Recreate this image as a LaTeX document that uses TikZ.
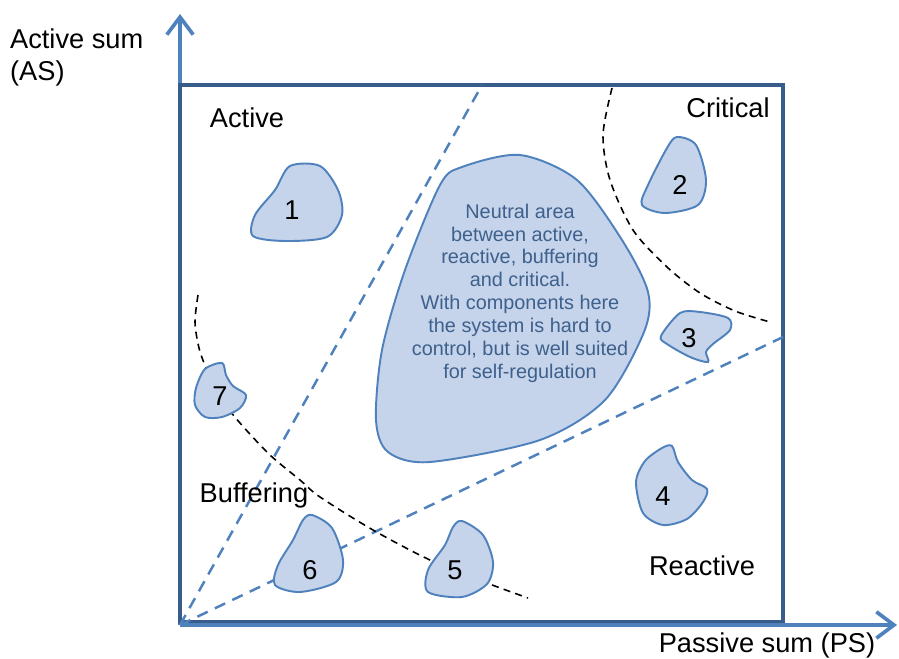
\documentclass[tikz,border=0pt]{standalone}
\usepackage{fontspec}
\setmainfont{Liberation Sans}
\usepackage{xcolor}
\usetikzlibrary{arrows.meta}
\definecolor{framecol}{RGB}{56,93,138}
\definecolor{axiscol}{RGB}{79,129,189}
\definecolor{blobfill}{RGB}{197,212,234}
\definecolor{neutraltext}{RGB}{62,96,140}

\begin{document}
\begin{tikzpicture}[x=0.02cm, y=-0.02cm,
  lbl/.style={font=\fontsize{15.5}{18.2}\selectfont, inner sep=1pt},
  num/.style={font=\fontsize{15.5}{18.2}\selectfont, inner sep=1pt},
  axis/.style={draw=axiscol, line width=2.1pt, -{Straight Barb[length=10pt, width=15pt, line width=2.1pt]}},
  frame/.style={draw=framecol, line width=2.4pt},
  border/.style={draw=axiscol, line width=1.4pt, dash pattern=on 6.5pt off 4.5pt},
  zone/.style={draw=black, line width=0.9pt, dash pattern=on 4pt off 3pt},
  blob/.style={draw=axiscol, fill=blobfill, line width=1.1pt}
]
\useasboundingbox (0,0) rectangle (899,659);
% axes and frame
\coordinate (O) at (180,625);
\coordinate (ytip) at (180,14);
\coordinate (xtip) at (897,625);
\coordinate (tl) at (180,85);
\coordinate (br) at (783,622);
\draw[axis] (O) -- (ytip);
\draw[frame] (tl) rectangle (br);
\draw[axis] (O) -- (xtip);
% borders between the areas
\coordinate (activeend) at (482,85);
\coordinate (reactiveend) at (783,337);
\draw[border] (O) -- (activeend);
\draw[border] (O) -- (reactiveend);
\draw[zone] plot[smooth] coordinates {(612,88) (603,135) (610,180) (633,230) (667,267) (700,293) (735,311) (770,322)};
\draw[zone] plot[smooth] coordinates {(198,295) (195,322) (199,348) (207,370) (222,400) (240,423) (270,455) (300,480) (320,497) (373,530) (430,560) (487,583) (528,598)};
% components
\draw[blob] plot[smooth cycle] coordinates {(520,155) (577,180) (622,240) (648,292) (644,332) (605,400) (540,440) (430,462) (388,452) (376,420) (382,350) (405,270) (440,185) (462,167)};
\draw[blob] plot[smooth cycle] coordinates {(290,166) (320,166) (338,190) (342,215) (327,237) (285,241) (253,236) (255,215) (275,190)};
\draw[blob] plot[smooth cycle] coordinates {(677,137) (696,145) (706,180) (698,205) (665,213) (642,205) (648,185) (667,148)};
\draw[blob] plot[smooth cycle] coordinates {(661,336) (680,313) (700,312) (728,318) (730,330) (713,344) (706,352) (708,362) (690,357) (667,344)};
\draw[blob] plot[smooth cycle] coordinates {(672,446) (678,462) (692,480) (707,489) (703,502) (687,519) (663,525) (643,513) (636,482) (645,461) (662,448)};
\draw[blob] plot[smooth cycle] coordinates {(462,521) (483,535) (493,562) (487,584) (462,597) (428,592) (428,570) (445,545) (453,527)};
\draw[blob] plot[smooth cycle] coordinates {(312,515) (332,528) (343,560) (336,582) (300,592) (275,585) (278,565) (293,540) (303,520)};
\draw[blob] plot[smooth cycle] coordinates {(196,388) (205,369) (222,363) (226,375) (233,386) (246,395) (240,408) (222,417) (205,417) (195,405)};
% texts
\node[lbl, align=left, anchor=west] (ylabel) at (8,57) {Active sum\\(AS)};
\node[lbl] (xlabel) at (767,645) {Passive sum (PS)};
\node[lbl] (active) at (247,118) {Active};
\node[lbl] (critical) at (728,108) {Critical};
\node[lbl] (buffering) at (254,495) {Buffering};
\node[lbl] (reactive) at (702,566) {Reactive};
\node[num] (c1) at (292,210) {1};
\node[num] (c2) at (680,185) {2};
\node[num] (c3) at (689,338) {3};
\node[num] (c4) at (663,496) {4};
\node[num] (c5) at (455,570) {5};
\node[num] (c6) at (310,570) {6};
\node[num] (c7) at (220,396) {7};
\node[align=center, text=neutraltext, font=\fontsize{11.3}{13}\selectfont] (neutral) at (520,293)
  {Neutral area\\between active,\\reactive, buffering\\and critical.\\With components here\\the system is hard to\\control, but is well suited\\for self-regulation};
\end{tikzpicture}
\end{document}
